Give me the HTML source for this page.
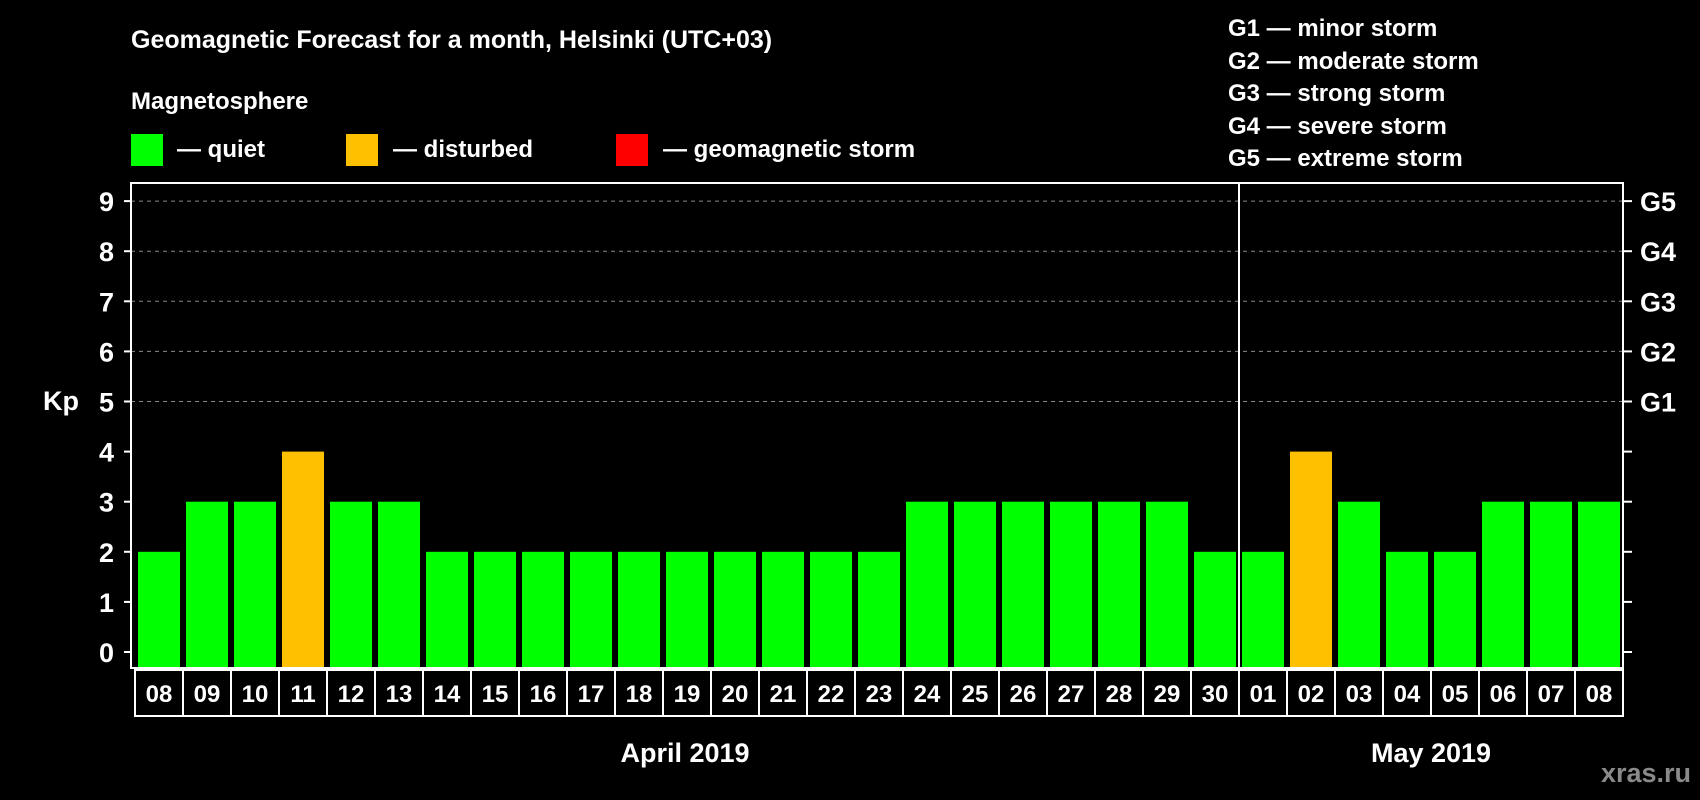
<!DOCTYPE html>
<html><head><meta charset="utf-8"><style>
html,body{margin:0;padding:0;background:#000;width:1700px;height:800px;overflow:hidden}
svg{display:block;font-family:"Liberation Sans",Arial,sans-serif;font-weight:bold}
</style></head><body>
<svg id="chart" width="1700" height="800" viewBox="0 0 1700 800" xmlns="http://www.w3.org/2000/svg">
<rect x="0" y="0" width="1700" height="800" fill="#000"/>
<text x="131" y="48" fill="#fff" font-size="25">Geomagnetic Forecast for a month, Helsinki (UTC+03)</text>
<text x="131" y="109" fill="#fff" font-size="24">Magnetosphere</text>
<g>
<rect x="131" y="134" width="32" height="32" fill="#00ff00"/>
<text x="177" y="157" fill="#fff" font-size="24">— quiet</text>
<rect x="346" y="134" width="32" height="32" fill="#ffc000"/>
<text x="393" y="157" fill="#fff" font-size="24">— disturbed</text>
<rect x="616" y="134" width="32" height="32" fill="#ff0000"/>
<text x="663" y="157" fill="#fff" font-size="24">— geomagnetic storm</text>
</g>
<g fill="#fff" font-size="24">
<text x="1228" y="36">G1 — minor storm</text>
<text x="1228" y="69">G2 — moderate storm</text>
<text x="1228" y="101">G3 — strong storm</text>
<text x="1228" y="134">G4 — severe storm</text>
<text x="1228" y="166">G5 — extreme storm</text>
</g>
<text x="43" y="410" fill="#fff" font-size="27">Kp</text>
<g id="grid"></g>
<g id="bars"></g>
<rect x="131" y="183" width="1492" height="485" fill="none" stroke="#fff" stroke-width="2"/>
<line x1="1239" y1="183" x2="1239" y2="668" stroke="#fff" stroke-width="2"/>
<g id="xlabels"></g>
<text x="685" y="762" fill="#fff" font-size="27" text-anchor="middle">April 2019</text>
<text x="1431" y="762" fill="#fff" font-size="27" text-anchor="middle">May 2019</text>
<text x="1691" y="782" fill="#8a8a8a" font-size="27" text-anchor="end">xras.ru</text>
</svg>
<script>
const days = ["08","09","10","11","12","13","14","15","16","17","18","19","20","21","22","23","24","25","26","27","28","29","30","01","02","03","04","05","06","07","08"];
const kpValues = [2,3,3,4,3,3,2,2,2,2,2,2,2,2,2,2,3,3,3,3,3,3,2,2,4,3,2,2,3,3,3];
const yTicks = [0,1,2,3,4,5,6,7,8,9];
const gLabels = ["G1","G2","G3","G4","G5"];
const gLevels = [5,6,7,8,9];

const NS = "http://www.w3.org/2000/svg";
const y = v => 652 - v * 50.1;
const xCell = i => 135 + i * 48;
const colorFor = v => v >= 5 ? "#ff0000" : (v >= 4 ? "#ffc000" : "#00ff00");
function mk(tag, attrs, parent){const e=document.createElementNS(NS,tag);for(const k in attrs)e.setAttribute(k,attrs[k]);parent.appendChild(e);return e;}

const grid = document.getElementById("grid");
yTicks.forEach(t => {
  const l = mk("line",{x1:124,x2:131,y1:y(t),y2:y(t),stroke:"#fff","stroke-width":2},grid);
  
  
  const r = mk("line",{x1:1623,x2:1632,y1:y(t),y2:y(t),stroke:"#fff","stroke-width":2},grid);
  
  
  const tx = mk("text",{x:114,y:y(t)+10,fill:"#fff","font-size":27,"text-anchor":"end"},grid);
  tx.textContent = t;
  
  
});
gLevels.forEach((lv,i) => {
  const g = mk("line",{x1:131,x2:1623,y1:y(lv),y2:y(lv),stroke:"#888","stroke-width":1,"stroke-dasharray":"4,4"},grid);
  
  
  const tx = mk("text",{x:1640,y:y(lv)+10,fill:"#fff","font-size":27},grid);
  tx.textContent = gLabels[i];
  
  
});

const bars = document.getElementById("bars");
kpValues.forEach((v,i) => {
  const b = mk("rect",{x:xCell(i)+3,y:y(v),width:42,height:668-y(v),fill:colorFor(v)},bars);
  
  
});

const xl = document.getElementById("xlabels");
days.forEach((d,i) => {
  const c = mk("rect",{x:xCell(i),y:670,width:48,height:46,fill:"#000",stroke:"#fff","stroke-width":2},xl);
  
  
  const t = mk("text",{x:xCell(i)+24,y:702,fill:"#fff","font-size":24,"text-anchor":"middle"},xl);
  t.textContent = d;
  
  
});
</script>
</body></html>
